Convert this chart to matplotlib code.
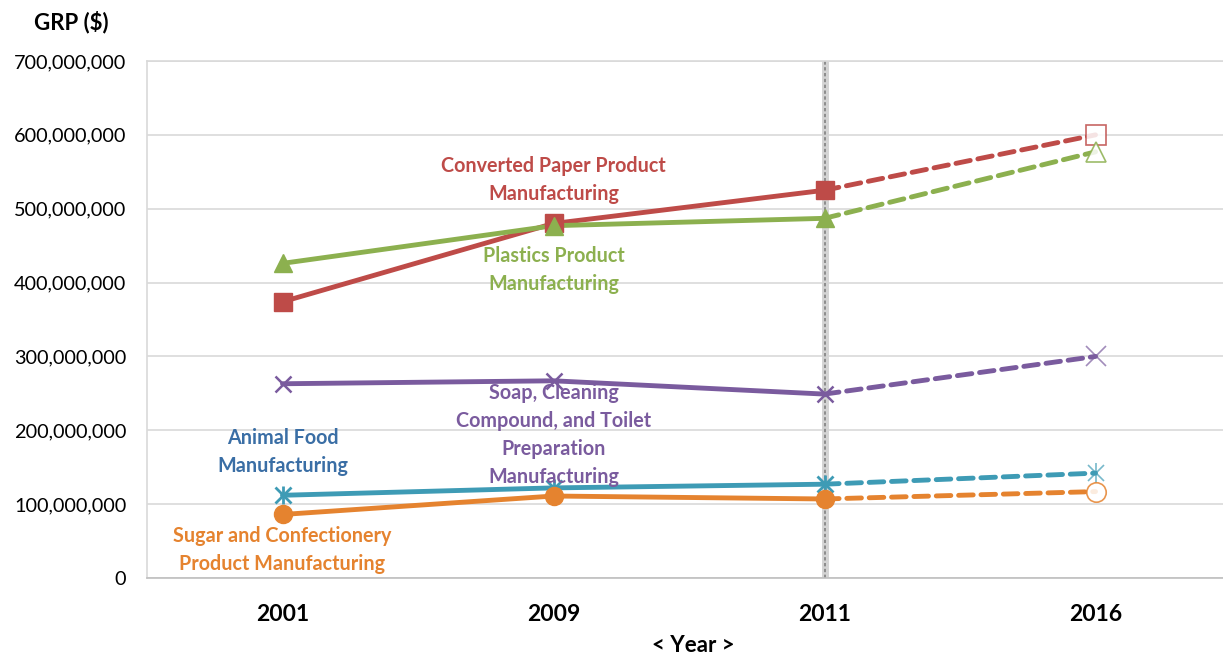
import matplotlib
matplotlib.use("Agg")
import matplotlib.pyplot as plt
from matplotlib.ticker import FuncFormatter

plt.rcParams['font.family'] = ['Lato', 'DejaVu Sans']

years = ["2001", "2009", "2011", "2016"]
converted_paper = [374e6, 480e6, 525e6, 600e6]
plastics = [426e6, 477e6, 487e6, 577e6]
soap = [263e6, 267e6, 249e6, 300e6]
animal_food = [112e6, 122e6, 127e6, 142e6]
sugar = [86e6, 111e6, 107e6, 117e6]

series = [
    ("Converted Paper Product\nManufacturing", converted_paper, "#BE4B48", "s", (1, 180), "#BE4B48"),
    ("Plastics Product\nManufacturing", plastics, "#8CB04F", "^", (1, 270), "#8CB04F"),
    ("Soap, Cleaning\nCompound, and Toilet\nPreparation\nManufacturing", soap, "#7A5B9E", "x", (1, 435), "#7A5B9E"),
    ("Animal Food\nManufacturing", animal_food, "#3E9BB5", "*x", (0, 452), "#3A6EA5"),
    ("Sugar and Confectionery\nProduct Manufacturing", sugar, "#E5832F", "o", (0, 550), "#E5832F"),
]

fig = plt.figure(figsize=(12.23, 6.56), dpi=100)
ax = fig.add_axes([147/1223, 78/656, 1084/1223, 517/656])

x = list(range(len(years)))

# vertical marker at 2011
ax.axvline(2, color="#d4d4d4", lw=5, zorder=1)
ax.axvline(2, color="#808080", lw=1.2, ls=(0, (2, 1.5)), zorder=1)

for name, vals, col, mk, lblpos, txtcol in series:
    ax.plot(x[:3], vals[:3], color=col, lw=3.5, zorder=3, solid_capstyle="round")
    ax.plot(x[2:], vals[2:], color=col, lw=3.5, ls=(0, (3, 1.6)), zorder=3,
            dash_capstyle="round")
    if mk == "*x":
        ax.plot(x[:3], vals[:3], ls="none", marker="x", ms=11, mew=2, color=col, zorder=4)
        ax.plot(x[:3], vals[:3], ls="none", marker="|", ms=13, mew=2, color=col, zorder=4)
        ax.plot(x[3:], vals[3:], ls="none", marker="x", ms=12, mew=1.2, color=col, alpha=0.7, zorder=4)
        ax.plot(x[3:], vals[3:], ls="none", marker="|", ms=15, mew=1.2, color=col, alpha=0.7, zorder=4)
    elif mk == "x":
        ax.plot(x[:3], vals[:3], ls="none", marker="x", ms=12, mew=1.8, color=col, zorder=4)
        ax.plot(x[3:], vals[3:], ls="none", marker="x", ms=14, mew=1.2, color=col, alpha=0.7, zorder=4)
    else:
        ms = 13
        ax.plot(x[:3], vals[:3], ls="none", marker=mk, ms=ms, mec=col, mfc=col, zorder=4)
        ax.plot(x[3:], vals[3:], ls="none", marker=mk, ms=ms + 1, mec=col, mfc="white",
                mew=1.2, alpha=0.85, zorder=4)

def ypix(p):
    return (578 - p) / 517 * 700e6

for name, vals, col, mk, (lx, py), txtcol in series:
    ax.text(lx, ypix(py), name, color=txtcol, fontsize=14.2, fontweight="bold",
            ha="center", va="center", linespacing=1.5, zorder=5)

ax.set_xlim(-0.5, 3.5)
ax.set_ylim(0, 700e6)
ax.set_yticks([i * 100e6 for i in range(8)])
ax.yaxis.set_major_formatter(FuncFormatter(lambda v, p: f"{int(v):,}"))
ax.set_xticks(x)
ax.set_xticklabels(years, fontsize=16.5, fontweight="bold")
for t in ax.get_yticklabels():
    t.set_fontsize(14.3)
ax.tick_params(axis="y", length=0, pad=15)
ax.tick_params(axis="x", length=0, pad=19)
ax.grid(axis="y", color="#d9d9d9", lw=1.2)
ax.set_axisbelow(True)
for s in ax.spines.values():
    s.set_color("#d9d9d9")
    s.set_linewidth(1.2)
ax.spines["bottom"].set_color("#bfbfbf")

fig.text(71/1223, 1 - 22/656, "GRP ($)", fontsize=16, fontweight="bold", ha="center", va="center")
fig.text(693/1223, 1 - 646/656, "< Year >", fontsize=16, fontweight="bold", ha="center", va="center")

fig.savefig("out.png", dpi=100)
